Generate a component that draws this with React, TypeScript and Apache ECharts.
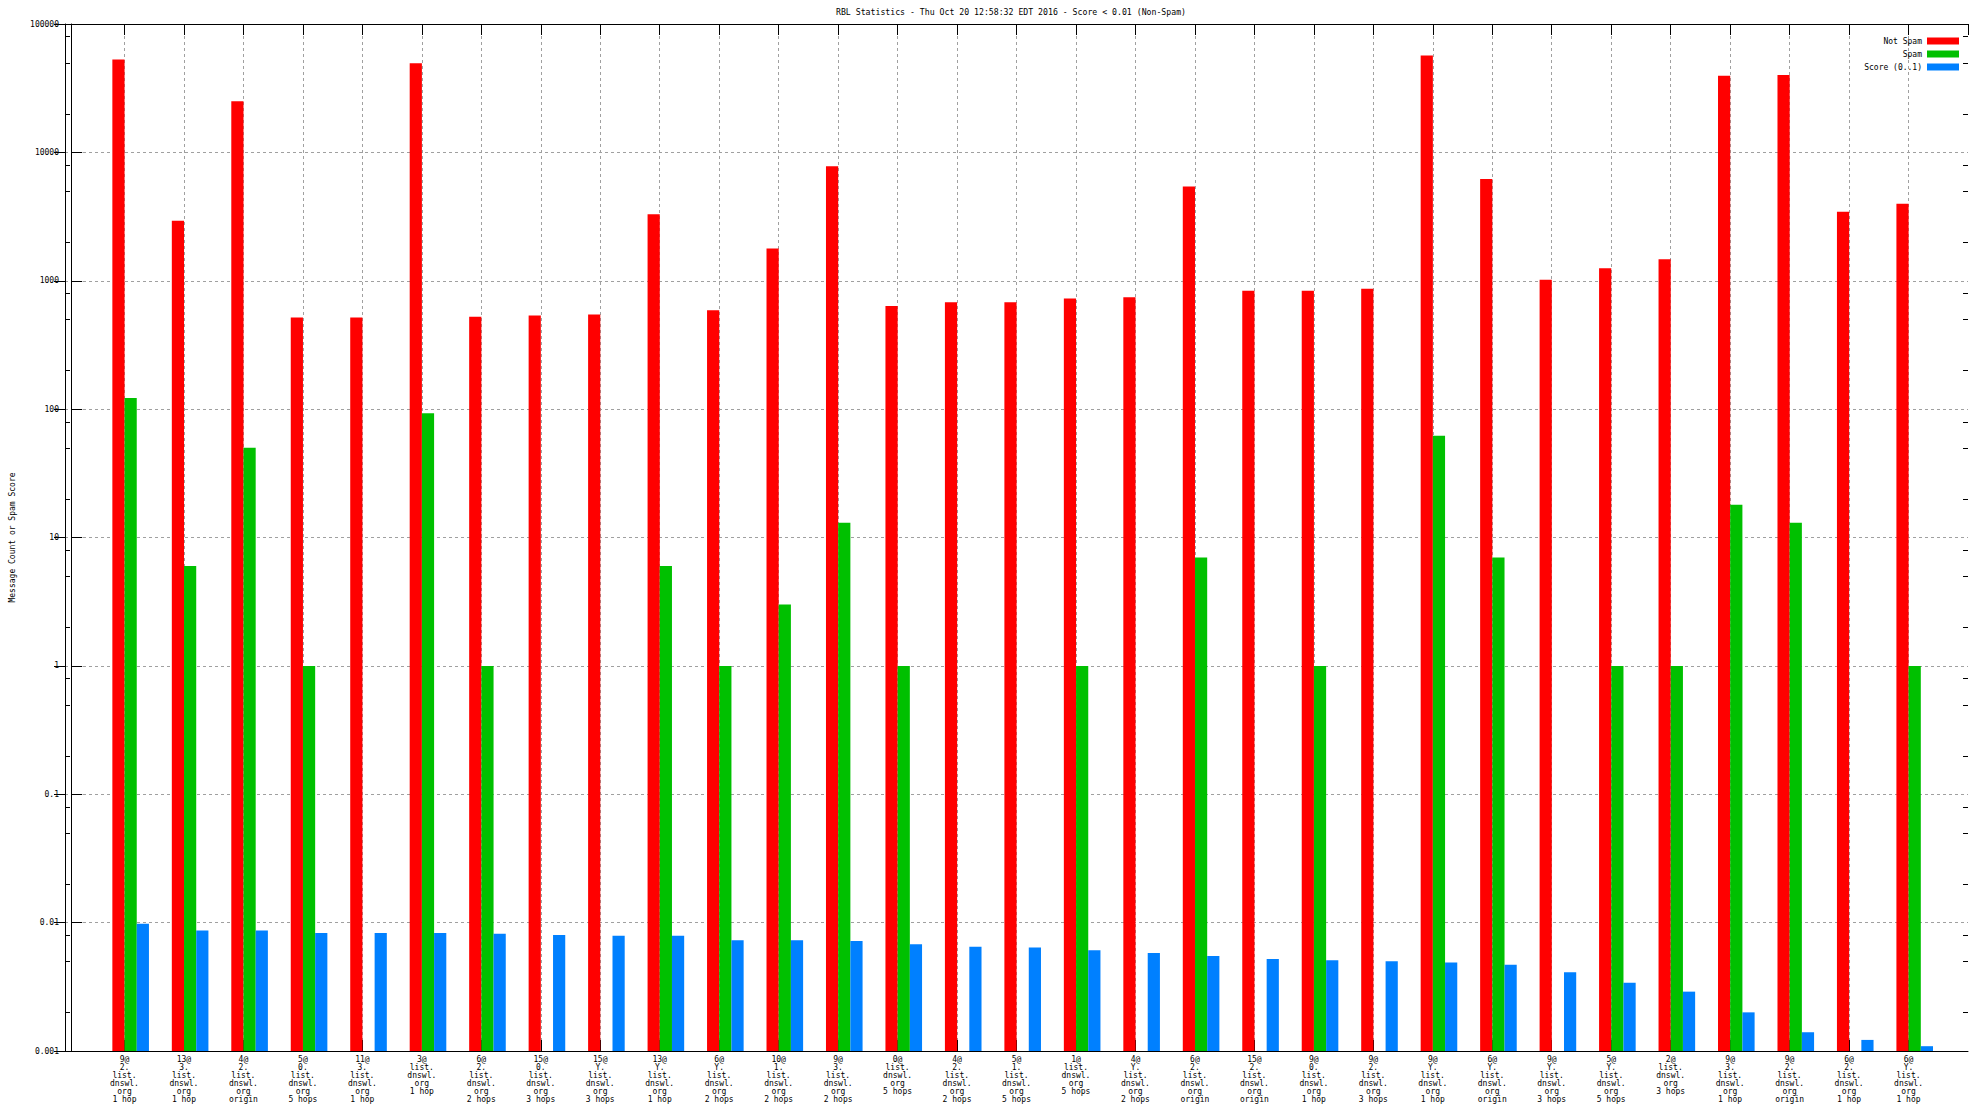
import React, { useEffect, useRef } from "react";
import * as echarts from "echarts";

const titleText = "RBL Statistics - Thu Oct 20 12:58:32 EDT 2016 - Score < 0.01 (Non-Spam)";
const yAxisName = "Message Count or Spam Score";

const categories: string[] = [
  "9@\n2.\nlist.\ndnswl.\norg\n1 hop",
  "13@\n3.\nlist.\ndnswl.\norg\n1 hop",
  "4@\n2.\nlist.\ndnswl.\norg\norigin",
  "5@\n0.\nlist.\ndnswl.\norg\n5 hops",
  "11@\n3.\nlist.\ndnswl.\norg\n1 hop",
  "3@\nlist.\ndnswl.\norg\n1 hop",
  "6@\n2.\nlist.\ndnswl.\norg\n2 hops",
  "15@\n0.\nlist.\ndnswl.\norg\n3 hops",
  "15@\nY.\nlist.\ndnswl.\norg\n3 hops",
  "13@\nY.\nlist.\ndnswl.\norg\n1 hop",
  "6@\nY.\nlist.\ndnswl.\norg\n2 hops",
  "10@\n1.\nlist.\ndnswl.\norg\n2 hops",
  "9@\n3.\nlist.\ndnswl.\norg\n2 hops",
  "0@\nlist.\ndnswl.\norg\n5 hops",
  "4@\n2.\nlist.\ndnswl.\norg\n2 hops",
  "5@\n1.\nlist.\ndnswl.\norg\n5 hops",
  "1@\nlist.\ndnswl.\norg\n5 hops",
  "4@\nY.\nlist.\ndnswl.\norg\n2 hops",
  "6@\n2.\nlist.\ndnswl.\norg\norigin",
  "15@\n2.\nlist.\ndnswl.\norg\norigin",
  "9@\n0.\nlist.\ndnswl.\norg\n1 hop",
  "9@\n2.\nlist.\ndnswl.\norg\n3 hops",
  "9@\nY.\nlist.\ndnswl.\norg\n1 hop",
  "6@\nY.\nlist.\ndnswl.\norg\norigin",
  "9@\nY.\nlist.\ndnswl.\norg\n3 hops",
  "5@\nY.\nlist.\ndnswl.\norg\n5 hops",
  "2@\nlist.\ndnswl.\norg\n3 hops",
  "9@\n3.\nlist.\ndnswl.\norg\n1 hop",
  "9@\n2.\nlist.\ndnswl.\norg\norigin",
  "6@\n2.\nlist.\ndnswl.\norg\n1 hop",
  "6@\nY.\nlist.\ndnswl.\norg\n1 hop",
];

const notSpam: number[] = [
  53000, 2940, 25000, 518, 518, 49500, 525, 535, 545, 3290,
  590, 1780, 7800, 636, 680, 680, 728, 745, 5420, 834,
  834, 865, 56800, 6210, 1020, 1250, 1470, 39500, 40000, 3440,
  3980,
];

const spam: (number | null)[] = [
  122, 6, 50, 1, null, 93, 1, null, null, 6,
  1, 3, 13, 1, null, null, 1, null, 7, null,
  1, null, 62, 7, null, 1, 1, 18, 13, null,
  1,
];

const score: number[] = [
  0.0098, 0.0087, 0.0087, 0.0083, 0.0083, 0.0083, 0.0082, 0.0080, 0.0079, 0.0079,
  0.0073, 0.0073, 0.0072, 0.0068, 0.0065, 0.0064, 0.0061, 0.0058, 0.0055, 0.0052,
  0.0051, 0.0050, 0.0049, 0.0047, 0.0041, 0.0034, 0.0029, 0.0020, 0.0014, 0.00122,
  0.00109,
];

const yTickLabels = ["0.001", "0.01", "0.1", "1", "10", "100", "1000", "10000", "100000"];
const minorTickMantissas = [2, 5, 8];
const decadeExponents = [-3, -2, -1, 0, 1, 2, 3, 4];

const seriesNames = ["Not Spam", "Spam", "Score (0..1)"];
const seriesColors = ["#ff0000", "#00c000", "#0080ff"];

const FONT = "DejaVu Sans Mono";

export default function App() {
  const ref = useRef<HTMLDivElement>(null);

  useEffect(() => {
    if (!ref.current) return;
    const chart = echarts.init(ref.current, null, { renderer: "svg" });

    const minorTicks: number[][] = [];
    decadeExponents.forEach((e) => {
      minorTickMantissas.forEach((m) => {
        minorTicks.push([1, m * Math.pow(10, e)]);
      });
    });

    const gridLine = { show: true, lineStyle: { color: "#a0a0a0", width: 1, type: [3, 3] as any } };
    const axisLineStyle = { show: true, lineStyle: { color: "#000", width: 1 } };
    const tickStyle = { show: true, inside: true, length: 11, lineStyle: { color: "#000", width: 1 } };
    const nCat = categories.length;

    const toXY = (arr: (number | null)[]) => arr.map((v, i) => [i + 1, v == null ? null : v]);

    const option: any = {
      animation: false,
      backgroundColor: "#fff",
      textStyle: { fontFamily: FONT, color: "#000" },
      graphic: [
        {
          type: "text",
          x: 1011,
          y: 12,
          style: {
            text: titleText,
            fontFamily: FONT,
            fontSize: 8.2,
            fill: "#000",
            textAlign: "center",
            textVerticalAlign: "middle",
          },
        },
      ],
      legend: {
        data: seriesNames,
        orient: "vertical",
        align: "right",
        right: 25,
        top: 37,
        padding: 0,
        itemWidth: 32,
        itemHeight: 7,
        itemGap: 5,
        icon: "rect",
        textStyle: { fontFamily: FONT, fontSize: 8, lineHeight: 8, color: "#000" },
        selectedMode: false,
      },
      grid: { left: 55, right: 16, top: 24, bottom: 65, containLabel: false },
      xAxis: [
        {
          // hidden axis carrying the bars (gnuplot's group offset)
          type: "value",
          min: -0.104,
          max: nCat + 1 - 0.104,
          show: false,
        },
        {
          type: "value",
          position: "bottom",
          min: 0,
          max: nCat + 1,
          interval: 1,
          axisLine: axisLineStyle,
          axisTick: tickStyle,
          axisLabel: {
            show: true,
            margin: 4,
            fontFamily: FONT,
            fontSize: 8,
            lineHeight: 8,
            color: "#000",
            showMinLabel: false,
            showMaxLabel: false,
            formatter: (v: number) => {
              const k = Math.round(v);
              return k >= 1 && k <= nCat ? categories[k - 1] : "";
            },
          },
          splitLine: { ...gridLine, showMinLine: false, showMaxLine: false },
        },
        {
          type: "value",
          position: "top",
          min: 0,
          max: nCat + 1,
          interval: 1,
          axisLine: axisLineStyle,
          axisTick: tickStyle,
          axisLabel: { show: false },
          splitLine: { show: false },
        },
      ],
      yAxis: [
        {
          type: "log",
          logBase: 10,
          min: 0.001,
          max: 100000,
          interval: 1,
          startValue: 0.001,
          position: "left",
          name: yAxisName,
          nameLocation: "middle",
          nameGap: 49,
          nameRotate: 90,
          nameTextStyle: { fontFamily: FONT, fontSize: 8, color: "#000" },
          axisLine: axisLineStyle,
          axisTick: tickStyle,
          axisLabel: {
            show: true,
            margin: 6,
            fontFamily: FONT,
            fontSize: 8,
            color: "#000",
            formatter: (v: number) => {
              const idx = Math.round(Math.log10(v)) + 3;
              return yTickLabels[idx] ?? "";
            },
          },
          splitLine: { ...gridLine, showMinLine: false, showMaxLine: false },
        },
        {
          type: "log",
          logBase: 10,
          min: 0.001,
          max: 100000,
          interval: 1,
          position: "right",
          axisLine: axisLineStyle,
          axisTick: tickStyle,
          axisLabel: { show: false },
          splitLine: { show: false },
        },
      ],
      series: [
        {
          name: seriesNames[0],
          type: "bar",
          xAxisIndex: 0,
          yAxisIndex: 0,
          data: toXY(notSpam),
          barWidth: 12.2,
          barGap: "0%",
          itemStyle: { color: seriesColors[0] },
        },
        {
          name: seriesNames[1],
          type: "bar",
          xAxisIndex: 0,
          yAxisIndex: 0,
          data: toXY(spam),
          barWidth: 12.2,
          barGap: "0%",
          itemStyle: { color: seriesColors[1] },
        },
        {
          name: seriesNames[2],
          type: "bar",
          xAxisIndex: 0,
          yAxisIndex: 0,
          data: toXY(score),
          barWidth: 12.2,
          barGap: "0%",
          itemStyle: { color: seriesColors[2] },
        },
        {
          name: "minorTicks",
          type: "custom",
          xAxisIndex: 1,
          yAxisIndex: 0,
          silent: true,
          clip: false,
          z: 1,
          data: minorTicks,
          encode: { x: 0, y: 1 },
          renderItem: (params: any, api: any) => {
            const y = Math.round(api.coord([api.value(0), api.value(1)])[1]) + 0.5;
            const cs = params.coordSys;
            return {
              type: "group",
              children: [
                {
                  type: "line",
                  shape: { x1: cs.x, y1: y, x2: cs.x + 5, y2: y },
                  style: { stroke: "#000", lineWidth: 1 },
                },
                {
                  type: "line",
                  shape: { x1: cs.x + cs.width - 5, y1: y, x2: cs.x + cs.width, y2: y },
                  style: { stroke: "#000", lineWidth: 1 },
                },
              ],
            };
          },
        },
      ],
    };

    chart.setOption(option);
    return () => chart.dispose();
  }, []);

  return (
    <div
      ref={ref}
      style={{ position: "fixed", left: 0, top: 0, width: 1984, height: 1116, background: "#fff" }}
    />
  );
}
